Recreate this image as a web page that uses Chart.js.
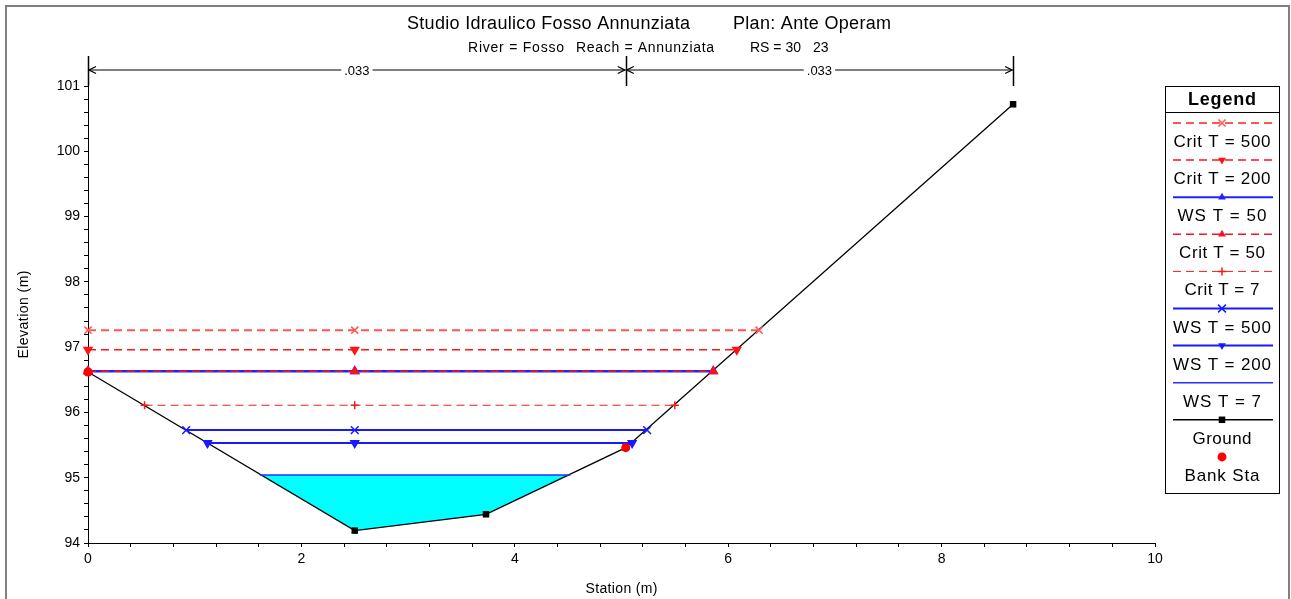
<!DOCTYPE html>
<html><head><meta charset="utf-8">
<script src="https://cdn.jsdelivr.net/npm/chart.js@4.4.1/dist/chart.umd.min.js"></script>
<style>html,body{margin:0;padding:0;background:#fff;}#wrap{width:1291px;height:599px;position:relative;}</style>
</head><body><div id="wrap"><canvas id="c" width="1291" height="599"></canvas></div>
<script>
// ---------------- DATA ----------------
const groundStation = [0, 2.50, 3.73, 5.04, 8.67];
const groundElev    = [96.62, 94.19, 94.44, 95.46, 100.72];
const bankStation   = [0, 5.04];
const bankElev      = [96.62, 95.46];
const profileNames    = ['Crit T = 500','Crit T = 200','WS T = 50','Crit T = 50','Crit T = 7','WS T = 500','WS T = 200','WS T = 7'];
const profileElev     = [97.26, 96.96, 96.63, 96.63, 96.11, 95.73, 95.53, 95.04];
const profileLeftSta  = [0, 0, 0, 0, 0.53, 0.92, 1.12, 1.61];
const profileRightSta = [6.29, 6.08, 5.86, 5.86, 5.50, 5.24, 5.10, 4.52];
const markerStation   = 2.50;
const manningN      = ['.033', '.033'];
const manningBreaks = [0, 5.04, 8.67];
const xTickLabels = [0, 2, 4, 6, 8, 10];
const yTickLabels = [94, 95, 96, 97, 98, 99, 100, 101];
const titleText    = ['Studio Idraulico Fosso Annunziata', 'Plan: Ante Operam'];
const subtitleText = ['River = Fosso', 'Reach = Annunziata', 'RS = 30', '23'];
const xTitle = 'Station (m)';
const yTitle = 'Elevation (m)';

// ---------------- STYLES ----------------
const FONT = '"Liberation Sans", Arial, sans-serif';
const profileStyle = [
  {color:'rgb(255,85,85)',  width:2,   dash:[8,5], marker:'crossRot', r:5,   rot:0},
  {color:'rgb(255,20,20)',  width:1.5, dash:[8,5], marker:'triangle', r:4.5, rot:180},
  {color:'rgb(35,35,255)',  width:2.5, dash:[],    marker:'triangle', r:4.5, rot:0},
  {color:'rgb(240,20,40)',  width:1.5, dash:[8,5], marker:'triangle', r:4.5, rot:0},
  {color:'rgb(235,30,30)',  width:1,   dash:[8,5], marker:'cross',    r:4,   rot:0},
  {color:'rgb(25,25,255)',  width:2,   dash:[],    marker:'crossRot', r:5.5, rot:0},
  {color:'rgb(25,25,255)',  width:2,   dash:[],    marker:'triangle', r:4.5, rot:180},
  {color:'rgb(45,45,255)',  width:1.5, dash:[],    marker:null,       r:0,   rot:0}
];

// ---------------- DATASETS ----------------
const datasets = [];
datasets.push({
  label:'Bank Sta', data: bankStation.map((x,i)=>({x, y:bankElev[i]})),
  showLine:false, pointStyle:'circle', pointRadius:4.5, pointBackgroundColor:'#ff0000',
  pointBorderColor:'#ff0000', pointBorderWidth:0, clip:false
});
const drawOrder = [0,1,3,4,2,5,6,7];
for (const i of drawOrder) {
  const s = profileStyle[i];
  datasets.push({
    label: profileNames[i],
    data: [{x:profileLeftSta[i], y:profileElev[i]}, {x:markerStation, y:profileElev[i]}, {x:profileRightSta[i], y:profileElev[i]}],
    borderColor:s.color, borderWidth:s.width, borderDash:s.dash,
    pointStyle: s.marker || 'circle', pointRadius: s.marker ? s.r : 0, pointRotation:s.rot,
    pointBackgroundColor:s.color, pointBorderColor:s.color, pointBorderWidth:1.5,
    fill:false, tension:0, clip:false
  });
}
datasets.push({
  label:'Ground', data: groundStation.map((x,i)=>({x, y:groundElev[i]})),
  borderColor:'#000', borderWidth:1.3, pointStyle:'rect', pointRadius:4.6,
  pointBackgroundColor:'#000', pointBorderColor:'#000', pointBorderWidth:0, fill:false, tension:0, clip:false
});
// water area of WS T = 7 : surface ends + ground points below it
const wsIdx = 7;
const waterPts = [{x:profileLeftSta[wsIdx], y:profileElev[wsIdx]}];
groundStation.forEach((x,i)=>{ if (x > profileLeftSta[wsIdx] && x < profileRightSta[wsIdx]) waterPts.push({x, y:groundElev[i]}); });
waterPts.push({x:profileRightSta[wsIdx], y:profileElev[wsIdx]});
datasets.push({
  label:'water', data: waterPts, borderWidth:0, borderColor:'rgba(0,0,0,0)', pointRadius:0,
  backgroundColor:'#00ffff', fill:'shape', tension:0
});

// tick positions (minor ticks between labelled ones)
const xTicks = []; for (let k = 0; k <= 25; k++) xTicks.push(Math.round(k*0.4*10)/10);
const yTicks = []; for (let k = 0; k <= 35; k++) yTicks.push(Math.round((94 + k*0.2)*10)/10);
const isLabel = (v, arr) => arr.some(a => Math.abs(a - v) < 1e-6);

// ---------------- HELPERS ----------------
function spacedText(ctx, text, x, y, targetW, align) {
  const chars = [...text];
  const base = ctx.measureText(text).width;
  if (targetW == null) targetW = base;
  const extra = chars.length > 1 ? (targetW - base) / (chars.length - 1) : 0;
  let cx = align === 'center' ? x - targetW/2 : x;
  ctx.save(); ctx.textAlign = 'left';
  for (const ch of chars) { ctx.fillText(ch, cx, y); cx += ctx.measureText(ch).width + extra; }
  ctx.restore();
}
function marker(ctx, style, x, y, r, rot, color) {
  ctx.save(); ctx.translate(x, y); ctx.rotate(rot*Math.PI/180);
  ctx.fillStyle = color; ctx.strokeStyle = color; ctx.lineWidth = 1.5; ctx.setLineDash([]);
  ctx.beginPath();
  if (style === 'triangle') { ctx.moveTo(0,-r); ctx.lineTo(r*0.866, r*0.5); ctx.lineTo(-r*0.866, r*0.5); ctx.closePath(); ctx.fill(); }
  else if (style === 'cross') { ctx.moveTo(-r,0); ctx.lineTo(r,0); ctx.moveTo(0,-r); ctx.lineTo(0,r); ctx.stroke(); }
  else if (style === 'crossRot') { const d = r*0.707; ctx.moveTo(-d,-d); ctx.lineTo(d,d); ctx.moveTo(d,-d); ctx.lineTo(-d,d); ctx.stroke(); }
  else if (style === 'rect') { const s = r*0.707; ctx.fillRect(-s,-s,2*s,2*s); }
  else if (style === 'circle') { ctx.arc(0,0,r,0,Math.PI*2); ctx.fill(); }
  ctx.restore();
}

// ---------------- PLUGIN ----------------
const decor = {
  id:'decor',
  beforeDraw(chart) {
    const ctx = chart.ctx; ctx.save(); ctx.fillStyle = '#fff'; ctx.fillRect(0,0,chart.width,chart.height); ctx.restore();
  },
  afterDraw(chart) {
    const ctx = chart.ctx, xs = chart.scales.x;
    ctx.save();
    // outer frame
    ctx.strokeStyle = '#808080'; ctx.lineWidth = 2; ctx.strokeRect(6, 6, 1283, 700);
    // titles
    ctx.fillStyle = '#000'; ctx.textBaseline = 'alphabetic';
    ctx.font = '18px ' + FONT;
    spacedText(ctx, titleText[0], 407, 29, 283, 'left');
    spacedText(ctx, titleText[1], 733, 29, 158, 'left');
    ctx.font = '14px ' + FONT;
    spacedText(ctx, subtitleText[0], 468, 52, 96, 'left');
    spacedText(ctx, subtitleText[1], 576, 52, 138, 'left');
    spacedText(ctx, subtitleText[2], 750, 52, null, 'left');
    spacedText(ctx, subtitleText[3], 813, 52, null, 'left');
    // axis titles
    ctx.font = '14px ' + FONT;
    spacedText(ctx, xTitle, (chart.chartArea.left + chart.chartArea.right)/2, 593, 72, 'center');
    ctx.save(); ctx.translate(28, (chart.chartArea.top + chart.chartArea.bottom)/2); ctx.rotate(-Math.PI/2);
    spacedText(ctx, yTitle, 0, 0, 88, 'center'); ctx.restore();
    // Manning n annotation
    const ay = 70;
    ctx.strokeStyle = '#000'; ctx.lineWidth = 1.5;
    manningBreaks.forEach(s => { const px = Math.round(xs.getPixelForValue(s)) + 0.5; ctx.beginPath(); ctx.moveTo(px, 56); ctx.lineTo(px, chart.chartArea.top); ctx.stroke(); });
    ctx.font = '13px ' + FONT; ctx.textAlign = 'center'; ctx.textBaseline = 'middle';
    for (let i = 0; i < manningN.length; i++) {
      const a = xs.getPixelForValue(manningBreaks[i]) + 1, b = xs.getPixelForValue(manningBreaks[i+1]) - 1;
      ctx.strokeStyle = '#555'; ctx.lineWidth = 1.3;
      ctx.beginPath(); ctx.moveTo(a, ay); ctx.lineTo(b, ay); ctx.stroke();
      ctx.strokeStyle = '#000'; ctx.lineWidth = 1.3;
      ctx.beginPath(); ctx.moveTo(a+7, ay-3.5); ctx.lineTo(a, ay); ctx.lineTo(a+7, ay+3.5);
      ctx.moveTo(b-7, ay-3.5); ctx.lineTo(b, ay); ctx.lineTo(b-7, ay+3.5); ctx.stroke();
      const mid = (a+b)/2, w = ctx.measureText(manningN[i]).width + 6;
      ctx.fillStyle = '#fff'; ctx.fillRect(mid - w/2, ay - 7, w, 14);
      ctx.fillStyle = '#000'; ctx.fillText(manningN[i], mid, ay + 1);
    }
    // legend box
    const L = 1165, R = 1279, T = 86, B = 493, cx = (L+R)/2;
    ctx.fillStyle = '#fff'; ctx.fillRect(L, T, R-L, B-T);
    ctx.strokeStyle = '#000'; ctx.lineWidth = 1; ctx.setLineDash([]);
    ctx.strokeRect(L+0.5, T+0.5, R-L, B-T);
    ctx.beginPath(); ctx.moveTo(L, 112.5); ctx.lineTo(R+1, 112.5); ctx.stroke();
    ctx.fillStyle = '#000'; ctx.font = 'bold 18px ' + FONT; ctx.textBaseline = 'alphabetic';
    spacedText(ctx, 'Legend', cx, 105, 68, 'center');
    const legendOrder = [0,1,2,3,4,5,6,7];
    const labW = [97, 97, 89, 86, 75, 98, 98, 78];
    ctx.font = '17px ' + FONT;
    const step = 37.1;
    legendOrder.forEach((pi, k) => {
      const s = profileStyle[pi], ly = 123 + k*step;
      ctx.save(); ctx.strokeStyle = s.color; ctx.lineWidth = Math.min(s.width, 2); ctx.setLineDash(s.dash);
      ctx.beginPath(); ctx.moveTo(1173, ly); ctx.lineTo(1273, ly); ctx.stroke(); ctx.restore();
      if (s.marker) marker(ctx, s.marker, cx, ly, s.r, s.rot, s.color);
      ctx.fillStyle = '#000';
      spacedText(ctx, profileNames[pi], cx, ly + 24, labW[k], 'center');
    });
    let ly = 123 + 8*step;
    ctx.strokeStyle = '#000'; ctx.lineWidth = 1.5; ctx.beginPath(); ctx.moveTo(1173, ly); ctx.lineTo(1273, ly); ctx.stroke();
    marker(ctx, 'rect', cx, ly, 4.6, 0, '#000');
    ctx.fillStyle = '#000'; spacedText(ctx, 'Ground', cx, ly + 24, 59, 'center');
    ly = 123 + 9*step;
    marker(ctx, 'circle', cx, ly, 4.5, 0, '#ff0000');
    ctx.fillStyle = '#000'; spacedText(ctx, 'Bank Sta', cx, ly + 24, 75, 'center');
    ctx.restore();
  }
};

// ---------------- CHART ----------------
const tickFont = {family: FONT, size: 14};
new Chart(document.getElementById('c'), {
  type:'line',
  data:{ datasets },
  options:{
    responsive:false, animation:false, devicePixelRatio:1,
    layout:{ padding:{ top:86, right:136, left:0, bottom:0 } },
    plugins:{ legend:{display:false}, tooltip:{enabled:false}, title:{display:false} },
    elements:{ line:{ tension:0 } },
    scales:{
      x:{
        type:'linear', min:0, max:10,
        afterFit: s => { s.height = 56; },
        afterBuildTicks: s => { s.ticks = xTicks.map(v => ({value:v})); },
        ticks:{ autoSkip:false, maxRotation:0, minRotation:0, padding:4, color:'#000', font:tickFont,
          callback: v => isLabel(v, xTickLabels) ? String(Math.round(v)) : '' },
        grid:{ drawOnChartArea:false, drawTicks:true, tickLength:4, color:'#000', lineWidth:1 },
        border:{ display:true, color:'#000', width:1 }
      },
      y:{
        type:'linear', min:94, max:101,
        afterFit: s => { s.width = 88; },
        afterBuildTicks: s => { s.ticks = yTicks.map(v => ({value:v})); },
        ticks:{ autoSkip:false, padding:4, color:'#000', font:tickFont,
          callback: v => isLabel(v, yTickLabels) ? String(Math.round(v)) : '' },
        grid:{ drawOnChartArea:false, drawTicks:true, tickLength:4, color:'#000', lineWidth:1 },
        border:{ display:true, color:'#000', width:1 }
      }
    }
  },
  plugins:[decor]
});
</script>
</body></html>
